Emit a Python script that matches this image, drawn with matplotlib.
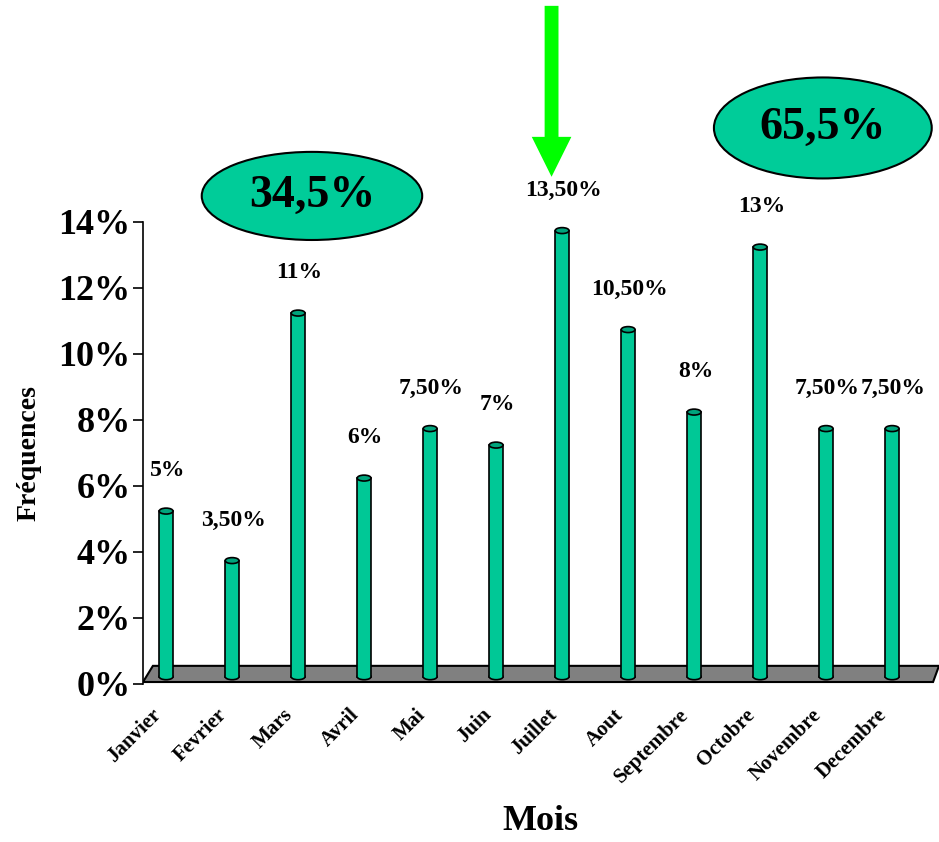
import numpy as np
import matplotlib.pyplot as plt
from matplotlib.patches import Rectangle, Ellipse, Polygon, FancyArrow
from matplotlib.ticker import FuncFormatter
from matplotlib.transforms import ScaledTranslation

plt.rcParams['font.family'] = ['Liberation Serif', 'DejaVu Serif']
plt.rcParams['font.weight'] = 'bold'

mois = ['Janvier', 'Fevrier', 'Mars', 'Avril', 'Mai', 'Juin', 'Juillet',
        'Aout', 'Septembre', 'Octobre', 'Novembre', 'Decembre']
freq = [5, 3.5, 11, 6, 7.5, 7, 13.5, 10.5, 8, 13, 7.5, 7.5]   # en %
etiq = ['5%', '3,50%', '11%', '6%', '7,50%', '7%', '13,50%', '10,50%',
        '8%', '13%', '7,50%', '7,50%']
bulles = ['34,5%', '65,5%']

vert = '#00C896'
vert_fonce = '#00A47C'

fig = plt.figure(figsize=(9.39, 8.42), dpi=100)
ax = fig.add_axes([143/939, 158/842, 796/939, 462/842])
ax.set_xlim(-0.35, 11.71)
ax.set_ylim(0, 14)

# sol gris en perspective
sol = Polygon([(-0.35, 0.06), (11.62, 0.06), (11.71, 0.55), (-0.2, 0.55)],
              closed=True, fc='#808080', ec='black', lw=1.5, zorder=1)
ax.add_patch(sol)

# cylindres
base = 0.22
w = 0.21
x = np.arange(len(mois))
for xi, v in zip(x, freq):
    top = v + base + 0.02
    ax.add_patch(Ellipse((xi, base), w, 0.18, fc=vert, ec='black', lw=1.2, zorder=2))
    ax.add_patch(Rectangle((xi - w/2, base), w, top - base, fc=vert, ec='none', zorder=3))
    ax.plot([xi - w/2, xi - w/2], [base, top], color='black', lw=1.2, zorder=4)
    ax.plot([xi + w/2, xi + w/2], [base, top], color='black', lw=1.2, zorder=4)
    ax.add_patch(Ellipse((xi, top), w, 0.18, fc=vert_fonce, ec='black', lw=1.2, zorder=5))

for xi, v, t in zip(x, freq, etiq):
    ax.text(xi + 0.02, v + base + 1.25, t, ha='center', va='center',
            fontsize=17, fontweight='bold')

# axes
for s in ['top', 'right', 'bottom']:
    ax.spines[s].set_visible(False)
ax.spines['left'].set_linewidth(1.2)
ax.set_yticks(np.arange(0, 15, 2))
ax.yaxis.set_major_formatter(FuncFormatter(lambda v, p: f'{v:.0f}%'))
ax.tick_params(axis='y', labelsize=26, length=7, width=1.2, pad=2)
ax.set_xticks(x)
ax.set_xticklabels(mois, rotation=45, ha='right', va='center',
                   rotation_mode='anchor', fontsize=15, fontweight='bold')
ax.tick_params(axis='x', length=0, pad=20)
decal = ScaledTranslation(-8/100, 0, fig.dpi_scale_trans)
for lab in ax.get_xticklabels():
    lab.set_transform(lab.get_transform() + decal)
for lab in ax.get_yticklabels():
    lab.set_fontweight('bold')

ax.set_ylabel('Fréquences', fontsize=20, fontweight='bold', labelpad=12)
fig.text(540/939, 1 - 822/842, 'Mois', ha='center', va='center',
         fontsize=26, fontweight='bold')

# bulles des totaux
ax.add_patch(Ellipse((2.21, 14.79), 3.34, 2.67, fc='#00CC99', ec='black',
                     lw=1.5, clip_on=False, zorder=6))
ax.text(2.21, 14.79, bulles[0], ha='center', va='center', fontsize=33,
        fontweight='bold', zorder=7)
ax.add_patch(Ellipse((9.95, 16.85), 3.30, 3.06, fc='#00CC99', ec='black',
                     lw=1.5, clip_on=False, zorder=6))
ax.text(9.95, 16.85, bulles[1], ha='center', va='center', fontsize=33,
        fontweight='bold', zorder=7)

# fleche sur juillet
fleche = FancyArrow(5.84, 20.55, 0, -5.18, width=0.21, head_width=0.6,
                    head_length=1.21, length_includes_head=True,
                    fc='#00FF00', ec='none', clip_on=False, zorder=6)
ax.add_patch(fleche)

fig.savefig('out.png', dpi=100)
